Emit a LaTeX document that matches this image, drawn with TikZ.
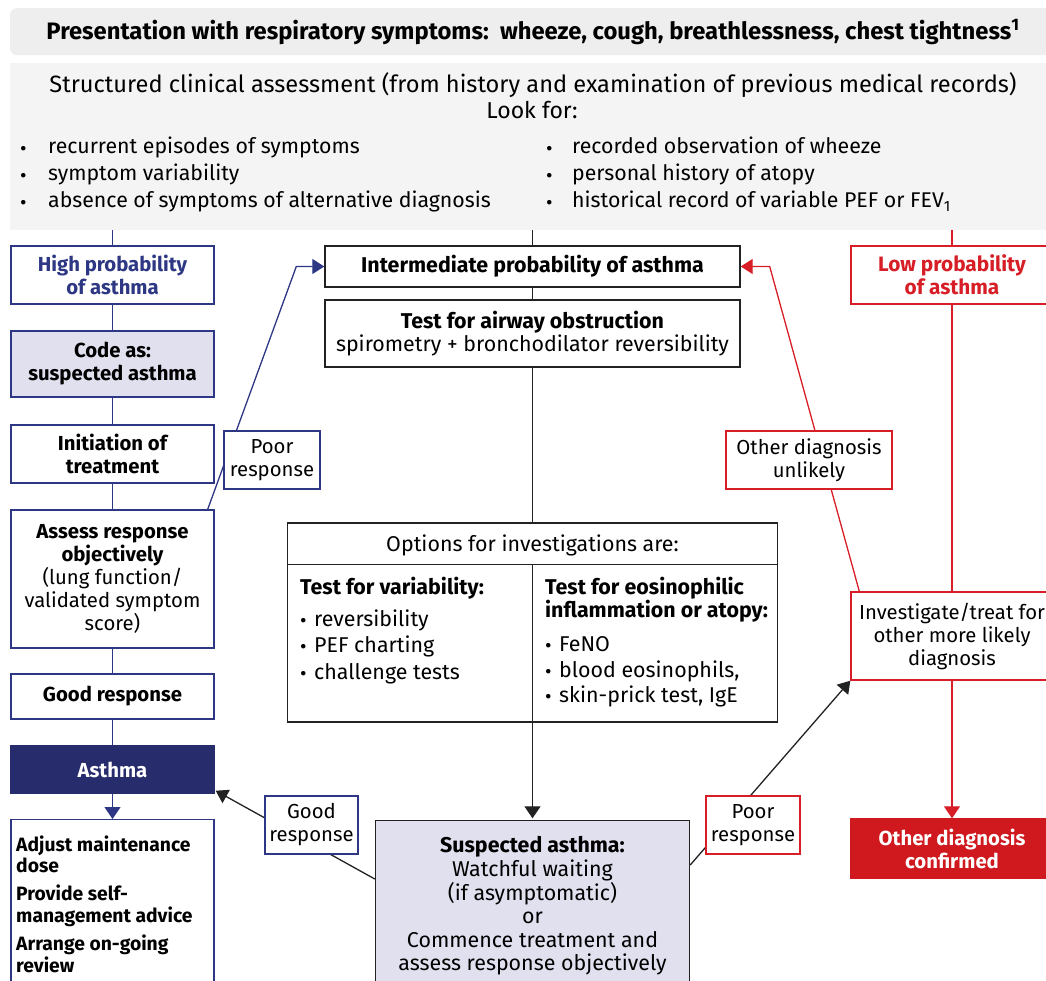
\documentclass[tikz,border=0pt]{standalone}
\usepackage{fontspec}
\setmainfont{Fira Sans}
\usetikzlibrary{arrows.meta,calc}
\definecolor{navy}{HTML}{2D3783}
\definecolor{navyfill}{HTML}{262C6C}
\definecolor{lav}{HTML}{E1E0EF}
\definecolor{redc}{HTML}{D71E26}
\definecolor{redfill}{HTML}{D0191E}
\definecolor{bandA}{HTML}{EEEEEE}
\definecolor{bandB}{HTML}{F4F4F4}
\definecolor{ink}{HTML}{222222}
\newcommand{\bul}{\raisebox{-1.5pt}{\fontsize{20}{20}\selectfont •}}
\tikzset{
  fs/.style={font=\fontsize{20.3}{23}\selectfont},
  bf/.style={font=\fontsize{20.3}{23}\selectfont\bfseries},
  fm/.style={font=\fontsize{21.4}{23}\selectfont},
  bm/.style={font=\fontsize{21.4}{23}\selectfont\bfseries},
  boxbase/.style={align=center, inner sep=0pt, line width=1.4pt, fill=white, text=black},
  bbox/.style={boxbase, draw=navy},
  kbox/.style={boxbase, draw=ink},
  rbox/.style={boxbase, draw=redc},
  bl/.style={draw=navy, line width=1.3pt},
  rl/.style={draw=redc, line width=1.3pt},
  kl/.style={draw=ink, line width=1.3pt},
  tipB/.style={-{Triangle[length=12pt,width=15pt]}},
  txt/.style={inner sep=0pt, anchor=base west, text=black},
  bandtxt/.style={inner sep=0pt, anchor=base west, font=\fontsize{21.3}{24}\selectfont},
}
\begin{document}
\begin{tikzpicture}[x=1pt,y=-1pt]
\useasboundingbox (0,0) rectangle (1046,981);
% bands
\node[fill=bandA, rounded corners=7pt, minimum width=1044, minimum height=47, inner sep=0pt, anchor=north] (bandone) at (532,8) {};
\node[inner sep=0pt, anchor=base, font=\fontsize{23.8}{26}\selectfont\bfseries] (title) at (533,40) {Presentation with respiratory symptoms:\ \ wheeze, cough, breathlessness, chest tightness\textsuperscript{1}};
\node[fill=bandB, minimum width=1044, minimum height=167, inner sep=0pt, anchor=north] (bandtwo) at (532,63) {};
\node[inner sep=0pt, anchor=base, font=\fontsize{23.6}{26}\selectfont] (sca) at (533,93) {Structured clinical assessment (from history and examination of previous medical records)};
\node[inner sep=0pt, anchor=base, font=\fontsize{23}{26}\selectfont] (lookfor) at (532,119) {Look for:};
\node[bandtxt] (la) at (20,154) {\makebox[28pt][l]{\bul}recurrent episodes of symptoms};
\node[bandtxt] (lb) at (20,181) {\makebox[28pt][l]{\bul}symptom variability};
\node[bandtxt] (lc) at (20,208) {\makebox[28pt][l]{\bul}absence of symptoms of alternative diagnosis};
\node[bandtxt] (ra) at (546,154) {\makebox[26pt][l]{\bul}recorded observation of wheeze};
\node[bandtxt] (rb) at (546,181) {\makebox[26pt][l]{\bul}personal history of atopy};
\node[bandtxt] (rc) at (546,208) {\makebox[26pt][l]{\bul}historical record of variable PEF or FEV\textsubscript{1}};
% left column
\node[bbox, bf, text=navy, minimum width=203, minimum height=58] (hp) at (112.5,275) {High probability\\of asthma};
\node[bbox, bf, fill=lav, minimum width=203, minimum height=66] (code) at (112.5,364) {Code as:\\suspected asthma};
\node[bbox, bf, minimum width=203, minimum height=58] (init) at (112.5,454) {Initiation of\\treatment};
\node[bbox, fs, minimum width=203, minimum height=138] (assess) at (112.5,579) {{\bfseries Assess response}\\{\bfseries objectively}\\(lung function/\\validated symptom\\score)};
\node[bbox, bf, minimum width=203, minimum height=45] (good) at (112.5,696.5) {Good response};
\node[bbox, bf, fill=navyfill, draw=navyfill, text=white, minimum width=203, minimum height=47] (asthma) at (112.5,769.5) {Asthma};
\node[bbox, minimum width=203, minimum height=190, anchor=north] (adj) at (112.5,819) {};
\node[txt, font=\fontsize{19.3}{22}\selectfont\bfseries] (adja) at (16,851) {Adjust maintenance};
\node[txt, font=\fontsize{19.3}{22}\selectfont\bfseries] (adjb) at (16,872) {dose};
\node[txt, font=\fontsize{19.3}{22}\selectfont\bfseries] (adjc) at (16,900) {Provide self-};
\node[txt, font=\fontsize{19.3}{22}\selectfont\bfseries] (adjd) at (16,922) {management advice};
\node[txt, font=\fontsize{19.3}{22}\selectfont\bfseries] (adje) at (16,950) {Arrange on-going};
\node[txt, font=\fontsize{19.3}{22}\selectfont\bfseries] (adjf) at (16,972) {review};
% middle column
\node[kbox, bm, minimum width=415, minimum height=41] (inter) at (532.5,266.5) {Intermediate probability of asthma};
\node[kbox, fm, minimum width=415, minimum height=67] (air) at (532.5,333.5) {{\bfseries Test for airway obstruction}\\spirometry + bronchodilator reversibility};
\node[kbox, minimum width=490, minimum height=199] (opt) at (532.5,622.5) {};
\node[inner sep=0pt, anchor=base, fm] (opth) at (532.5,551) {Options for investigations are:};
\node[txt, bm] (va) at (300,594) {Test for variability:};
\node[txt, fm] (vb) at (300,626) {\makebox[14pt][l]{\bul}reversibility};
\node[txt, fm] (vc) at (300,652) {\makebox[14pt][l]{\bul}PEF charting};
\node[txt, fm] (vd) at (300,679) {\makebox[14pt][l]{\bul}challenge tests};
\node[txt, bm] (ea) at (545,594) {Test for eosinophilic};
\node[txt, bm] (eb) at (545,617) {inflammation or atopy:};
\node[txt, fm] (ec) at (545,651) {\makebox[14pt][l]{\bul}FeNO};
\node[txt, fm] (ed) at (545,677) {\makebox[14pt][l]{\bul}blood eosinophils,};
\node[txt, fm] (ee) at (545,702) {\makebox[14pt][l]{\bul}skin-prick test, IgE};
\node[kbox, fill=lav, minimum width=314, minimum height=171, font=\fontsize{21.4}{23.6}\selectfont] (susp) at (532.5,906) {{\bfseries Suspected asthma:}\\Watchful waiting\\(if asymptomatic)\\or\\Commence treatment and\\assess response objectively};
% right column
\node[rbox, bf, text=redc, font=\fontsize{20.8}{23}\selectfont\bfseries, minimum width=202, minimum height=58] (lp) at (952,275) {Low probability\\of asthma};
\node[rbox, fs, minimum width=202, minimum height=88] (inv) at (952,636) {Investigate/treat for\\other more likely\\diagnosis};
\node[rbox, bf, fill=redfill, draw=redfill, text=white, minimum width=202, minimum height=59] (conf) at (952,848.5) {Other diagnosis\\confirmed};
% connectors: blue
\draw[bl] (hp.north |- bandtwo.south) -- (hp.north);
\draw[bl] (hp.south) -- (code.north);
\draw[bl] (code.south) -- (init.north);
\draw[bl] (init.south) -- (assess.north);
\draw[bl] (assess.south) -- (good.north);
\draw[bl] (good.south) -- (asthma.north);
\draw[bl, -{Triangle[length=12pt,width=16pt]}] (asthma.south) -- (adj.north);
\draw[bl, tipB] ($(assess.north east)+(-7,0)$) -- ($(inter.west)+(-28,0)$) -- (inter.west);
% black
\draw[kl] (inter.north |- bandtwo.south) -- (inter.north);
\draw[kl] (inter.south) -- (air.north);
\draw[kl] (air.south) -- (opt.north);
\draw[kl] ($(opt.north west)+(0,42)$) -- ($(opt.north east)+(0,42)$);
\draw[kl] ($(opt.north)+(0,42)$) -- (opt.south);
\draw[kl, -{Triangle[length=12pt,width=16pt]}] (opt.south) -- ($(susp.north)+(0,-1.5)$);
\draw[kl, tipB] ($(susp.west)+(0,-27)$) -- ($(asthma.south east)+(1,-3)$);
\draw[kl, tipB] ($(susp.east)+(0,-41)$) -- (inv.south west);
% red
\draw[rl] (lp.north |- bandtwo.south) -- (lp.north);
\draw[rl] (lp.south) -- (inv.north);
\draw[rl, -{Triangle[length=12pt,width=16pt]}] (inv.south) -- (conf.north);
\draw[rl, tipB] ($(inv.north west)+(9,0)$) -- ($(inter.east)+(29,0)$) -- (inter.east);
% labels on connectors
\node[bbox, fs, minimum width=96, minimum height=58] (poorL) at (272,460) {Poor\\response};
\node[bbox, fs, minimum width=93, minimum height=58] (goodL) at (311.5,825) {Good\\response};
\node[rbox, fs, minimum width=94, minimum height=58] (poorR) at (753,825) {Poor\\response};
\node[rbox, fs, minimum width=166, minimum height=58] (otherU) at (809,460) {Other diagnosis\\unlikely};
\end{tikzpicture}
\end{document}
